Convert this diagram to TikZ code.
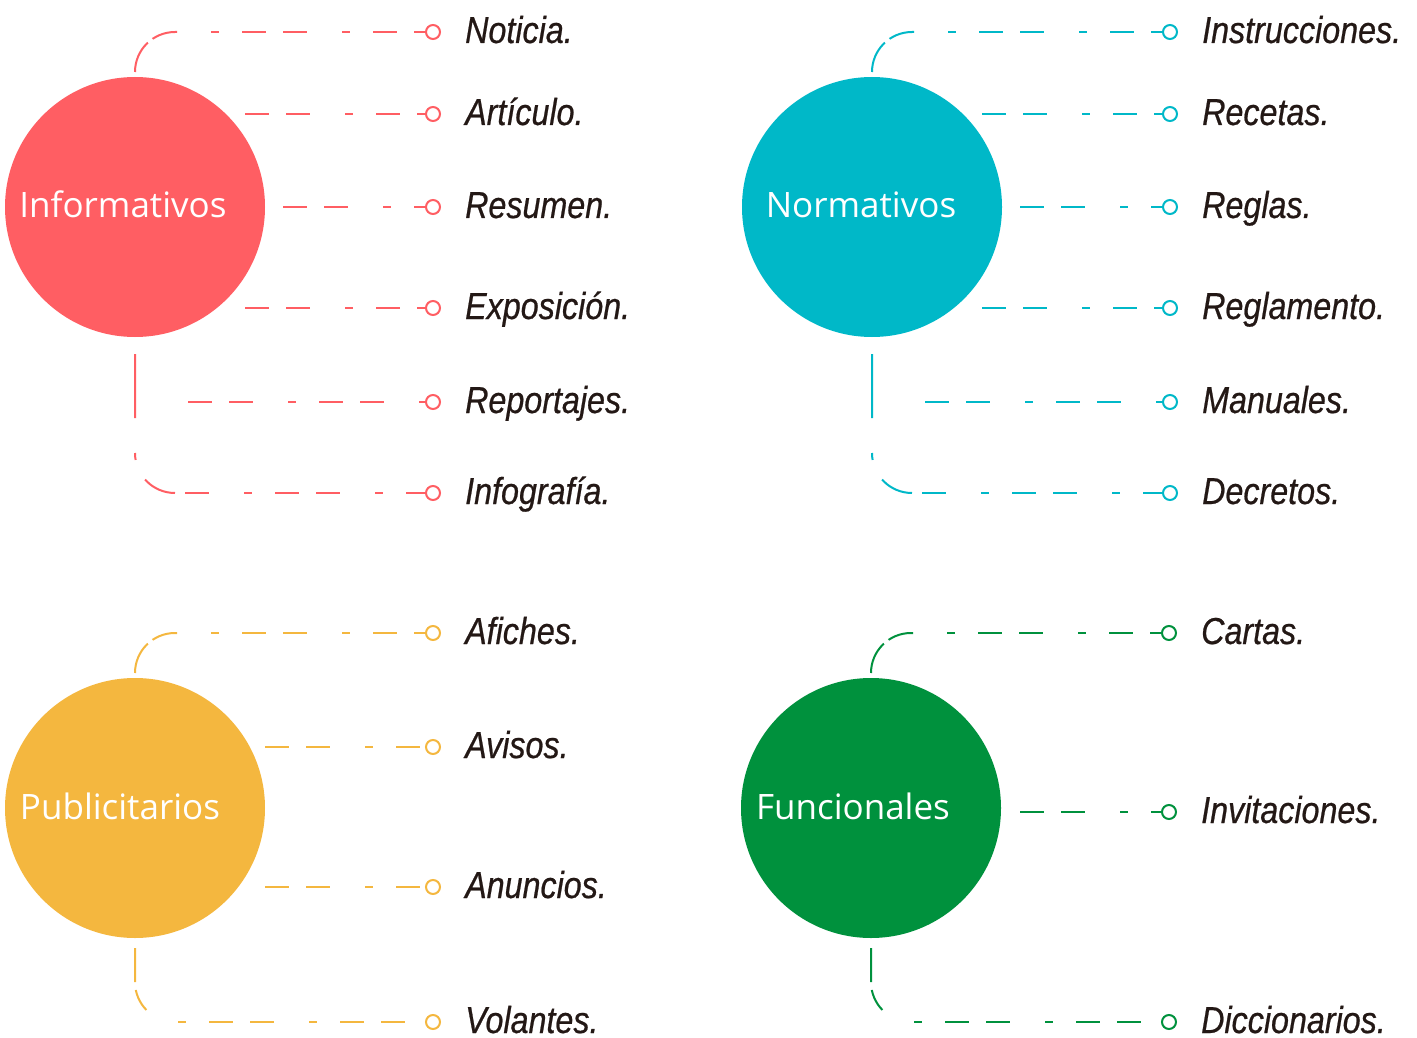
\documentclass[tikz,border=0pt]{standalone}
\usepackage{fontspec}
\newfontfamily\hubfam{Open Sans}
\newfontfamily\itemfam[FakeStretch=0.86,FakeBold=0.6]{Liberation Sans}
\definecolor{cRed}{HTML}{FF5E63}
\definecolor{cTeal}{HTML}{00B8C8}
\definecolor{cYel}{HTML}{F4B73F}
\definecolor{cGrn}{HTML}{00913D}
\definecolor{ink}{HTML}{231815}
\tikzset{
  hub/.style={circle, fill=#1, minimum size=260pt, inner sep=0pt},
  hublabel/.style={anchor=base, text=white, inner sep=0pt, font=\hubfam\fontsize{35}{40}\selectfont},
  bullet/.style={circle, draw=#1, fill=white, line width=2pt, minimum size=14pt, inner sep=0pt},
  item/.style={anchor=base west, text=ink, inner sep=0pt, font=\itemfam\itshape\fontsize{37.5}{42}\selectfont},
  dashline/.style={draw=#1, line width=2pt, dash pattern=on 24pt off 17pt on 24pt off 35pt on 8pt off 23pt},
  topcorner/.style={draw=#1, line width=2pt, rounded corners=40pt, dash pattern=on 33pt off 6pt on 60pt},
  botcorner/.style={draw=#1, line width=2pt, rounded corners=40pt, dash pattern=on 64pt off 35pt on 7pt off 22pt on 60pt},
  botcornerb/.style={draw=#1, line width=2pt, rounded corners=40pt, dash pattern=on 34pt off 8pt on 23pt off 60pt},
}
\begin{document}
\begin{tikzpicture}[x=1pt,y=-1pt]
\useasboundingbox (0,0) rectangle (1417,1038);

% ---------------- Informativos ----------------
\begin{scope}[shift={(135,207)}]
  \node[hub=cRed] (inf) at (0,0) {};
  \node[hublabel] (inf-l) at (-12,11) {Informativos};
  \node[bullet=cRed] (inf-b1) at (298,-175) {};
  \node[bullet=cRed] (inf-b2) at (298,-93) {};
  \node[bullet=cRed] (inf-b3) at (298,0) {};
  \node[bullet=cRed] (inf-b4) at (298,101) {};
  \node[bullet=cRed] (inf-b5) at (298,195) {};
  \node[bullet=cRed] (inf-b6) at (298,286) {};
  \node[item] (inf-t1) at (330,-164) {Noticia.};
  \node[item] (inf-t2) at (330,-82) {Artículo.};
  \node[item] (inf-t3) at (330,11) {Resumen.};
  \node[item] (inf-t4) at (330,112) {Exposición.};
  \node[item] (inf-t5) at (330,206) {Reportajes.};
  \node[item] (inf-t6) at (330,297) {Infografía.};
  \coordinate (inf-c0) at (0,-135);
  \coordinate (inf-c1) at (42,-175);
  \coordinate (inf-s2) at (110,-93);
  \coordinate (inf-s3) at (148,0);
  \coordinate (inf-s4) at (110,101);
  \coordinate (inf-s5) at (53,195);
  \coordinate (inf-c5) at (0,147);
  \coordinate (inf-c6) at (40,286);
  \draw[topcorner=cRed] (inf-c0) |- (inf-c1);
  \draw[dashline=cRed, dash phase=66] (inf-c1) -- (inf-b1);
  \draw[dashline=cRed] (inf-s2) -- (inf-b2);
  \draw[dashline=cRed] (inf-s3) -- (inf-b3);
  \draw[dashline=cRed] (inf-s4) -- (inf-b4);
  \draw[dashline=cRed] (inf-s5) -- (inf-b5);
  \draw[botcorner=cRed] (inf-c5) |- (inf-c6);
  \draw[dashline=cRed, dash phase=31] (inf-c6) -- (inf-b6);
\end{scope}

% ---------------- Normativos ----------------
\begin{scope}[shift={(872,207)}]
  \node[hub=cTeal] (nor) at (0,0) {};
  \node[hublabel] (nor-l) at (-11,11) {Normativos};
  \node[bullet=cTeal] (nor-b1) at (298,-175) {};
  \node[bullet=cTeal] (nor-b2) at (298,-93) {};
  \node[bullet=cTeal] (nor-b3) at (298,0) {};
  \node[bullet=cTeal] (nor-b4) at (298,101) {};
  \node[bullet=cTeal] (nor-b5) at (298,195) {};
  \node[bullet=cTeal] (nor-b6) at (298,286) {};
  \node[item] (nor-t1) at (330,-164) {Instrucciones.};
  \node[item] (nor-t2) at (330,-82) {Recetas.};
  \node[item] (nor-t3) at (330,11) {Reglas.};
  \node[item] (nor-t4) at (330,112) {Reglamento.};
  \node[item] (nor-t5) at (330,206) {Manuales.};
  \node[item] (nor-t6) at (330,297) {Decretos.};
  \coordinate (nor-c0) at (0,-135);
  \coordinate (nor-c1) at (42,-175);
  \coordinate (nor-s2) at (110,-93);
  \coordinate (nor-s3) at (148,0);
  \coordinate (nor-s4) at (110,101);
  \coordinate (nor-s5) at (53,195);
  \coordinate (nor-c5) at (0,147);
  \coordinate (nor-c6) at (40,286);
  \draw[topcorner=cTeal] (nor-c0) |- (nor-c1);
  \draw[dashline=cTeal, dash phase=66] (nor-c1) -- (nor-b1);
  \draw[dashline=cTeal] (nor-s2) -- (nor-b2);
  \draw[dashline=cTeal] (nor-s3) -- (nor-b3);
  \draw[dashline=cTeal] (nor-s4) -- (nor-b4);
  \draw[dashline=cTeal] (nor-s5) -- (nor-b5);
  \draw[botcorner=cTeal] (nor-c5) |- (nor-c6);
  \draw[dashline=cTeal, dash phase=31] (nor-c6) -- (nor-b6);
\end{scope}

% ---------------- Publicitarios ----------------
\begin{scope}[shift={(135,808)}]
  \node[hub=cYel] (pub) at (0,0) {};
  \node[hublabel] (pub-l) at (-15,11) {Publicitarios};
  \node[bullet=cYel] (pub-b1) at (298,-175) {};
  \node[bullet=cYel] (pub-b2) at (298,-61) {};
  \node[bullet=cYel] (pub-b3) at (298,79) {};
  \node[bullet=cYel] (pub-b4) at (298,214) {};
  \node[item] (pub-t1) at (330,-164) {Afiches.};
  \node[item] (pub-t2) at (330,-50) {Avisos.};
  \node[item] (pub-t3) at (330,90) {Anuncios.};
  \node[item] (pub-t4) at (330,225) {Volantes.};
  \coordinate (pub-c0) at (0,-135);
  \coordinate (pub-c1) at (42,-175);
  \coordinate (pub-s2) at (130,-61);
  \coordinate (pub-s3) at (130,79);
  \coordinate (pub-c3) at (0,140);
  \coordinate (pub-c4) at (40,214);
  \draw[topcorner=cYel] (pub-c0) |- (pub-c1);
  \draw[dashline=cYel, dash phase=66] (pub-c1) -- (pub-b1);
  \draw[dashline=cYel] (pub-s2) -- (pub-b2);
  \draw[dashline=cYel] (pub-s3) -- (pub-b3);
  \draw[botcornerb=cYel] (pub-c3) |- (pub-c4);
  \draw[dashline=cYel, dash phase=97] (pub-c4) -- (pub-b4);
\end{scope}

% ---------------- Funcionales ----------------
\begin{scope}[shift={(871,808)}]
  \node[hub=cGrn] (fun) at (0,0) {};
  \node[hublabel] (fun-l) at (-18,11) {Funcionales};
  \node[bullet=cGrn] (fun-b1) at (298,-175) {};
  \node[bullet=cGrn] (fun-b2) at (298,4) {};
  \node[bullet=cGrn] (fun-b3) at (298,214) {};
  \node[item] (fun-t1) at (330,-164) {Cartas.};
  \node[item] (fun-t2) at (330,15) {Invitaciones.};
  \node[item] (fun-t3) at (330,225) {Diccionarios.};
  \coordinate (fun-c0) at (0,-135);
  \coordinate (fun-c1) at (42,-175);
  \coordinate (fun-s2) at (149,4);
  \coordinate (fun-c3) at (0,140);
  \coordinate (fun-c4) at (40,214);
  \draw[topcorner=cGrn] (fun-c0) |- (fun-c1);
  \draw[dashline=cGrn, dash phase=66] (fun-c1) -- (fun-b1);
  \draw[dashline=cGrn] (fun-s2) -- (fun-b2);
  \draw[botcornerb=cGrn] (fun-c3) |- (fun-c4);
  \draw[dashline=cGrn, dash phase=97] (fun-c4) -- (fun-b3);
\end{scope}
\end{tikzpicture}
\end{document}
